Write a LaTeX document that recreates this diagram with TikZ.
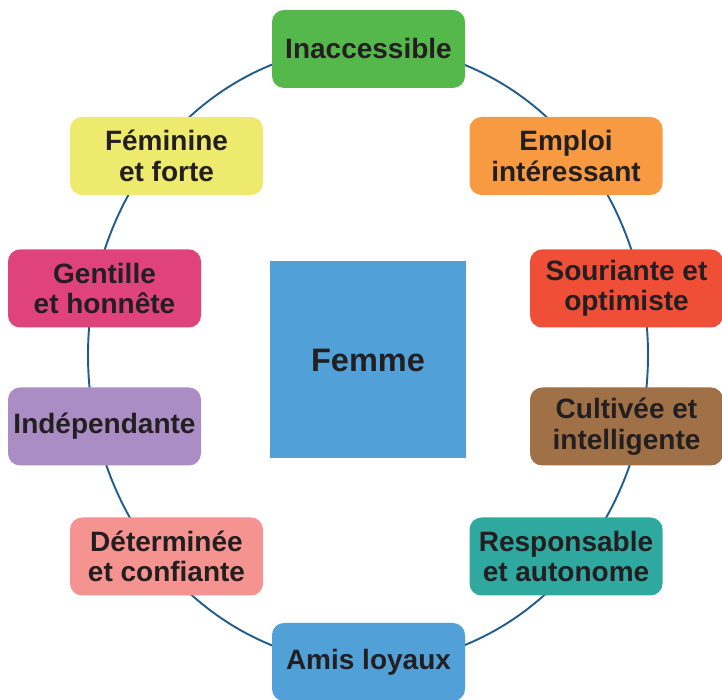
\documentclass[tikz,border=0pt]{standalone}
\usepackage{fontspec}
\setmainfont{Liberation Sans}
\definecolor{ring}{HTML}{1F5C8A}
\definecolor{txt}{HTML}{231F20}
\definecolor{cgreen}{HTML}{55B84A}
\definecolor{corange}{HTML}{F79A42}
\definecolor{cred}{HTML}{EF4E37}
\definecolor{cbrown}{HTML}{A07047}
\definecolor{cteal}{HTML}{2FA8A0}
\definecolor{cblue}{HTML}{51A0D8}
\definecolor{cpink}{HTML}{F4938F}
\definecolor{clavender}{HTML}{A98DC4}
\definecolor{cmagenta}{HTML}{DF437A}
\definecolor{cyellow}{HTML}{EEEA6E}
\begin{document}
\begin{tikzpicture}[x=1pt,y=1pt,
	trait/.style={rounded corners=12pt, minimum width=193pt, minimum height=78pt, inner sep=2pt, align=center, text=txt, font=\fontsize{28}{30.5}\selectfont\bfseries},
	centre/.style={minimum width=196pt, minimum height=197pt, inner sep=0pt, text=txt, font=\fontsize{32.5}{36}\selectfont\bfseries}]
	\useasboundingbox (0,0) rectangle (722,700);
	\draw[ring, line width=1.9pt] (368,345) ellipse [x radius=280, y radius=309];
	\node[centre, fill=cblue] (femme) at (368,340) {Femme};
	\node[trait, fill=cgreen] (inacc) at (368.5,651) {Inaccessible};
	\node[trait, fill=corange] (emploi) at (566,544) {Emploi\\intéressant};
	\node[trait, fill=cred] (souriante) at (626.5,411.5) {Souriante et\\optimiste};
	\node[trait, fill=cbrown] (cultivee) at (626.5,273.5) {Cultivée et\\intelligente};
	\node[trait, fill=cteal] (respons) at (566,143.5) {Responsable\\et autonome};
	\node[trait, fill=cblue] (amis) at (368.5,38) {Amis loyaux};
	\node[trait, fill=cpink] (determ) at (166.5,143.5) {Déterminée\\et confiante};
	\node[trait, fill=clavender] (indep) at (104.5,273.5) {Indépendante};
	\node[trait, fill=cmagenta] (gentille) at (104.5,411.5) {Gentille\\et honnête};
	\node[trait, fill=cyellow] (feminine) at (166.5,544) {Féminine\\et forte};
\end{tikzpicture}
\end{document}
